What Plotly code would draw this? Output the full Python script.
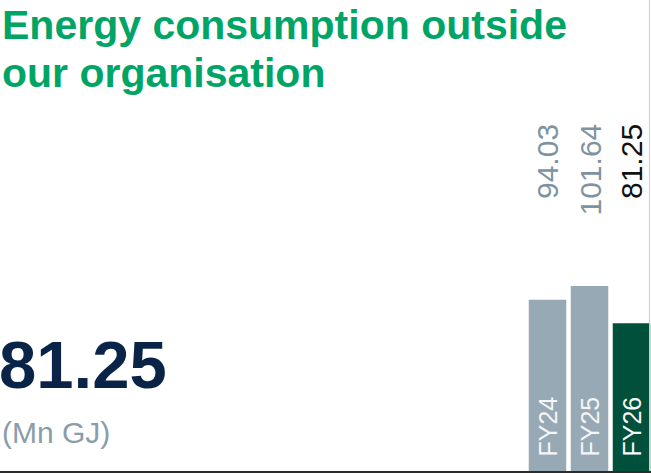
import plotly.graph_objects as go

categories = ["FY24", "FY25", "FY26"]
values = [94.03, 101.64, 81.25]
value_labels = ["94.03", "101.64", "81.25"]
headline_value = "81.25"
unit_label = "(Mn GJ)"
title_lines = ["Energy consumption outside", "our organisation"]

W, H = 651, 473
bar_colors = ["#97a9b5", "#97a9b5", "#00503b"]
label_colors = ["#7d93a1", "#7d93a1", "#111111"]

def py(p):
    return 1 - p / H

fig = go.Figure()
fig.add_trace(go.Bar(
    x=list(range(len(categories))), y=values,
    marker=dict(color=bar_colors, line=dict(width=0)),
    width=0.893, hoverinfo="skip",
))

ann = []
# title
for i, line in enumerate(title_lines):
    ann.append(dict(text=line, x=0, xref="paper", xanchor="left",
                    y=py(25 + 48 * i), yref="paper", yanchor="middle",
                    showarrow=False,
                    font=dict(family="Liberation Sans", size=41, color="#00a566",
                              weight="bold")))
ann.append(dict(text=headline_value, x=-0.004, xref="paper", xanchor="left",
                y=py(364), yref="paper", yanchor="middle", showarrow=False,
                font=dict(family="Liberation Sans", size=67, color="#0a2447",
                          weight="bold")))
ann.append(dict(text=unit_label, x=0, xref="paper", xanchor="left",
                y=py(432), yref="paper", yanchor="middle", showarrow=False,
                font=dict(family="Liberation Sans", size=30, color="#8a9daa")))
for i, c in enumerate(categories):
    ann.append(dict(text=value_labels[i], x=i, xref="x", xanchor="center",
                    y=py(122), yref="paper", yanchor="top", textangle=-90,
                    showarrow=False,
                    font=dict(family="Liberation Sans", size=30, color=label_colors[i])))
    ann.append(dict(text=c, x=i, xref="x", xanchor="center",
                    y=0, yref="y", yanchor="bottom", yshift=12, textangle=-90,
                    showarrow=False,
                    font=dict(family="Liberation Sans", size=25, color="#f4f6f7")))

shapes = [
    dict(type="line", xref="paper", yref="paper", x0=649.5 / W, x1=649.5 / W,
         y0=0, y1=1, line=dict(color="#c9d1d7", width=1)),
    dict(type="line", xref="paper", yref="y", x0=0, x1=1, y0=-0.55, y1=-0.55,
         line=dict(color="#2b2b2b", width=2)),
]

px_per_cat = 42.0
left_px = 547.5
fig.update_layout(
    width=W, height=H, margin=dict(l=0, r=0, t=0, b=0),
    paper_bgcolor="white", plot_bgcolor="white",
    showlegend=False, annotations=ann, shapes=shapes,
    xaxis=dict(range=[-left_px / px_per_cat, (W - left_px) / px_per_cat],
               visible=False, fixedrange=True),
    yaxis=dict(range=[-2 / 1.82, 471 / 1.82], visible=False, fixedrange=True),
)
fig.write_html("out.html", config={"displayModeBar": False},
               post_script="document.body.style.margin='0';document.body.style.overflow='hidden';")
